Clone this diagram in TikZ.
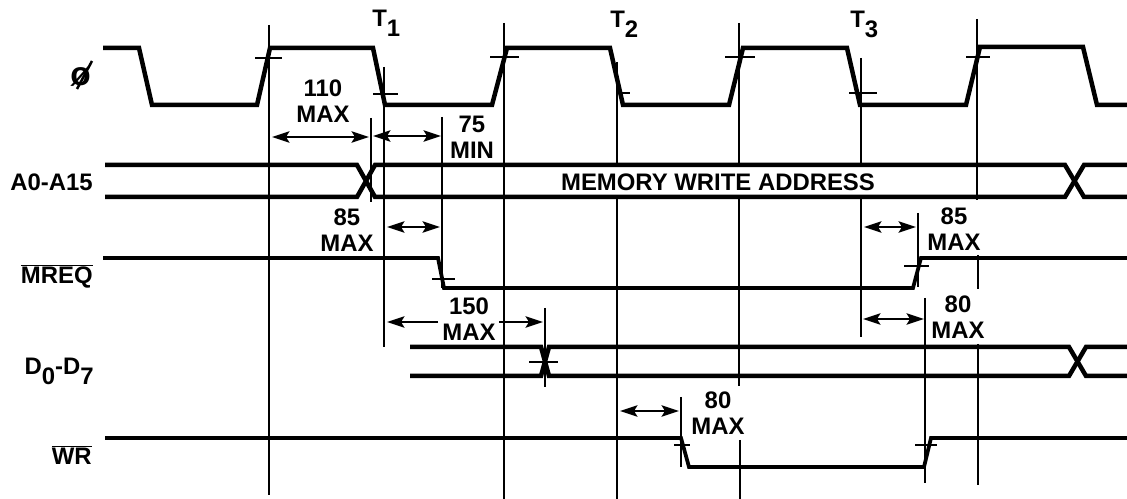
\documentclass[tikz,border=0pt]{standalone}
\usepackage{fontspec}
\setmainfont{Liberation Sans}
\usetikzlibrary{arrows.meta}
\tikzset{
  signal/.style={line width=0.09cm,line join=miter},
  guide/.style={line width=0.032cm},
  tick/.style={line width=0.03cm},
  tip/.tip={Stealth[length=0.35cm,width=0.23cm,inset=0.07cm]},
  span/.style={line width=0.036cm,tip-tip},
  halfspan/.style={line width=0.036cm,-tip},
  lbl/.style={font=\fontsize{13.6}{15}\selectfont\bfseries,align=center,inner sep=0pt},
}
\newcommand{\lowered}[1]{\raisebox{-5.5pt}{#1}}
\begin{document}
\begin{tikzpicture}[x=0.02cm,y=-0.02cm]
  \useasboundingbox (0,0) rectangle (1127,499);
  % long guide lines
  \draw[guide] (269,25) -- (269,495);
  \draw[guide] (384,67) -- (384,347);
  \draw[guide] (504,23) -- (504,499);
  \draw[guide] (617,62) -- (617,165);
  \draw[guide] (617,197) -- (617,499);
  \draw[guide] (739,23) -- (739,165);
  \draw[guide] (739,197) -- (739,386);
  \draw[guide] (740,440) -- (740,499);
  \draw[guide] (861,58) -- (861,165);
  \draw[guide] (861,197) -- (861,337);
  \draw[guide] (977,19) -- (977,200);
  \draw[guide] (978,255) -- (978,289);
  \draw[guide] (978,344) -- (978,485);
  % short guide lines
  \draw[guide] (371,118) -- (371,202);
  \draw[guide] (442,117) -- (442,288);
  \draw[guide] (545,308) -- (545,387);
  \draw[guide] (918,213) -- (918,287);
  \draw[guide] (925,298) -- (925,483);
  \draw[guide] (681,397) -- (681,467);
  % clock
  \draw[signal] (103,48) -- (139,48) -- (152,105) -- (257,105) -- (270,48) -- (373,48)
    -- (385,105) -- (492,105) -- (507,48) -- (610,48) -- (623,105) -- (729,105)
    -- (743,48) -- (847,48) -- (860,105) -- (966,105) -- (980,47) -- (1083,47)
    -- (1097,105) -- (1127,105);
  % clock ticks
  \draw[tick] (255,58) -- (282,58);
  \draw[tick] (373,94) -- (398,94);
  \draw[tick] (490,57) -- (519,57);
  \draw[tick] (616,93) -- (630,93);
  \draw[tick] (725,57) -- (755,57);
  \draw[tick] (849,93) -- (877,93);
  \draw[tick] (966,57) -- (990,57);
  % address bus
  \draw[signal] (105,165) -- (357,165) -- (375,197) -- (1065,197) -- (1084,165) -- (1127,165);
  \draw[signal] (105,197) -- (357,197) -- (375,165) -- (1065,165) -- (1084,197) -- (1127,197);
  % mreq
  \draw[signal,line width=0.075cm] (103,258) -- (438,258) -- (444,288) -- (913,288) -- (921,258) -- (1127,258);
  \draw[tick] (432,279) -- (455,279);
  \draw[tick] (904,266) -- (929,266);
  % data bus
  \draw[signal] (410,347) -- (541,347) -- (549,376) -- (1069,376) -- (1086,347) -- (1127,347);
  \draw[signal] (410,376) -- (541,376) -- (549,347) -- (1069,347) -- (1086,376) -- (1127,376);
  \draw[tick] (529,362) -- (558,362);
  % wr
  \draw[signal,line width=0.075cm] (105,438) -- (681,438) -- (689,467) -- (924,467) -- (931,438) -- (1127,438);
  \draw[tick] (674,445) -- (690,445);
  \draw[tick] (915,445) -- (937,445);
  % spans
  \draw[span] (272,137) -- (369,137);
  \draw[span] (373,136) -- (441,136);
  \draw[span] (387,227) -- (440,227);
  \draw[span] (864,227) -- (916,227);
  \draw[span] (863,319) -- (924,319);
  \draw[span] (620,411) -- (679,411);
  \draw[halfspan] (438,322) -- (387,322);
  \draw[halfspan] (499,322) -- (543,322);
  % span labels
  \node[lbl] (lblmaxa) at (323,101) {110\\MAX};
  \node[lbl] (lblmin) at (472,137) {75\\MIN};
  \node[lbl] (lblmaxb) at (347,230) {85\\MAX};
  \node[lbl] (lblmaxc) at (469,319) {150\\MAX};
  \node[lbl] (lblmaxd) at (954,229) {85\\MAX};
  \node[lbl] (lblmaxe) at (958,317) {80\\MAX};
  \node[lbl] (lblmaxf) at (718,413) {80\\MAX};
  \node[lbl] (lbladdr) at (718,182) {MEMORY WRITE ADDRESS};
  % state names
  \node[lbl,anchor=base west] (tone) at (372,27) {T\lowered{1}};
  \node[lbl,anchor=base west] (ttwo) at (610,28) {T\lowered{2}};
  \node[lbl,anchor=base west] (tthree) at (850,28) {T\lowered{3}};
  % signal names
  \node[lbl,anchor=base east,font=\fontsize{19}{19}\selectfont\bfseries] (lblclk) at (91,86) {ø};
  \draw[line width=0.05cm] (77,89) -- (92,61);
  \node[lbl,anchor=east] (lbladd) at (93,182) {A0-A15};
  \node[lbl,anchor=base east] (lblmreq) at (93,284) {$\overline{\mbox{MREQ}}$};
  \node[lbl,anchor=base east] (lbldata) at (94,375) {D\lowered{0}-D\lowered{7}};
  \node[lbl,anchor=base east] (lblwr) at (92,465) {$\overline{\mbox{WR}}$};
\end{tikzpicture}
\end{document}
